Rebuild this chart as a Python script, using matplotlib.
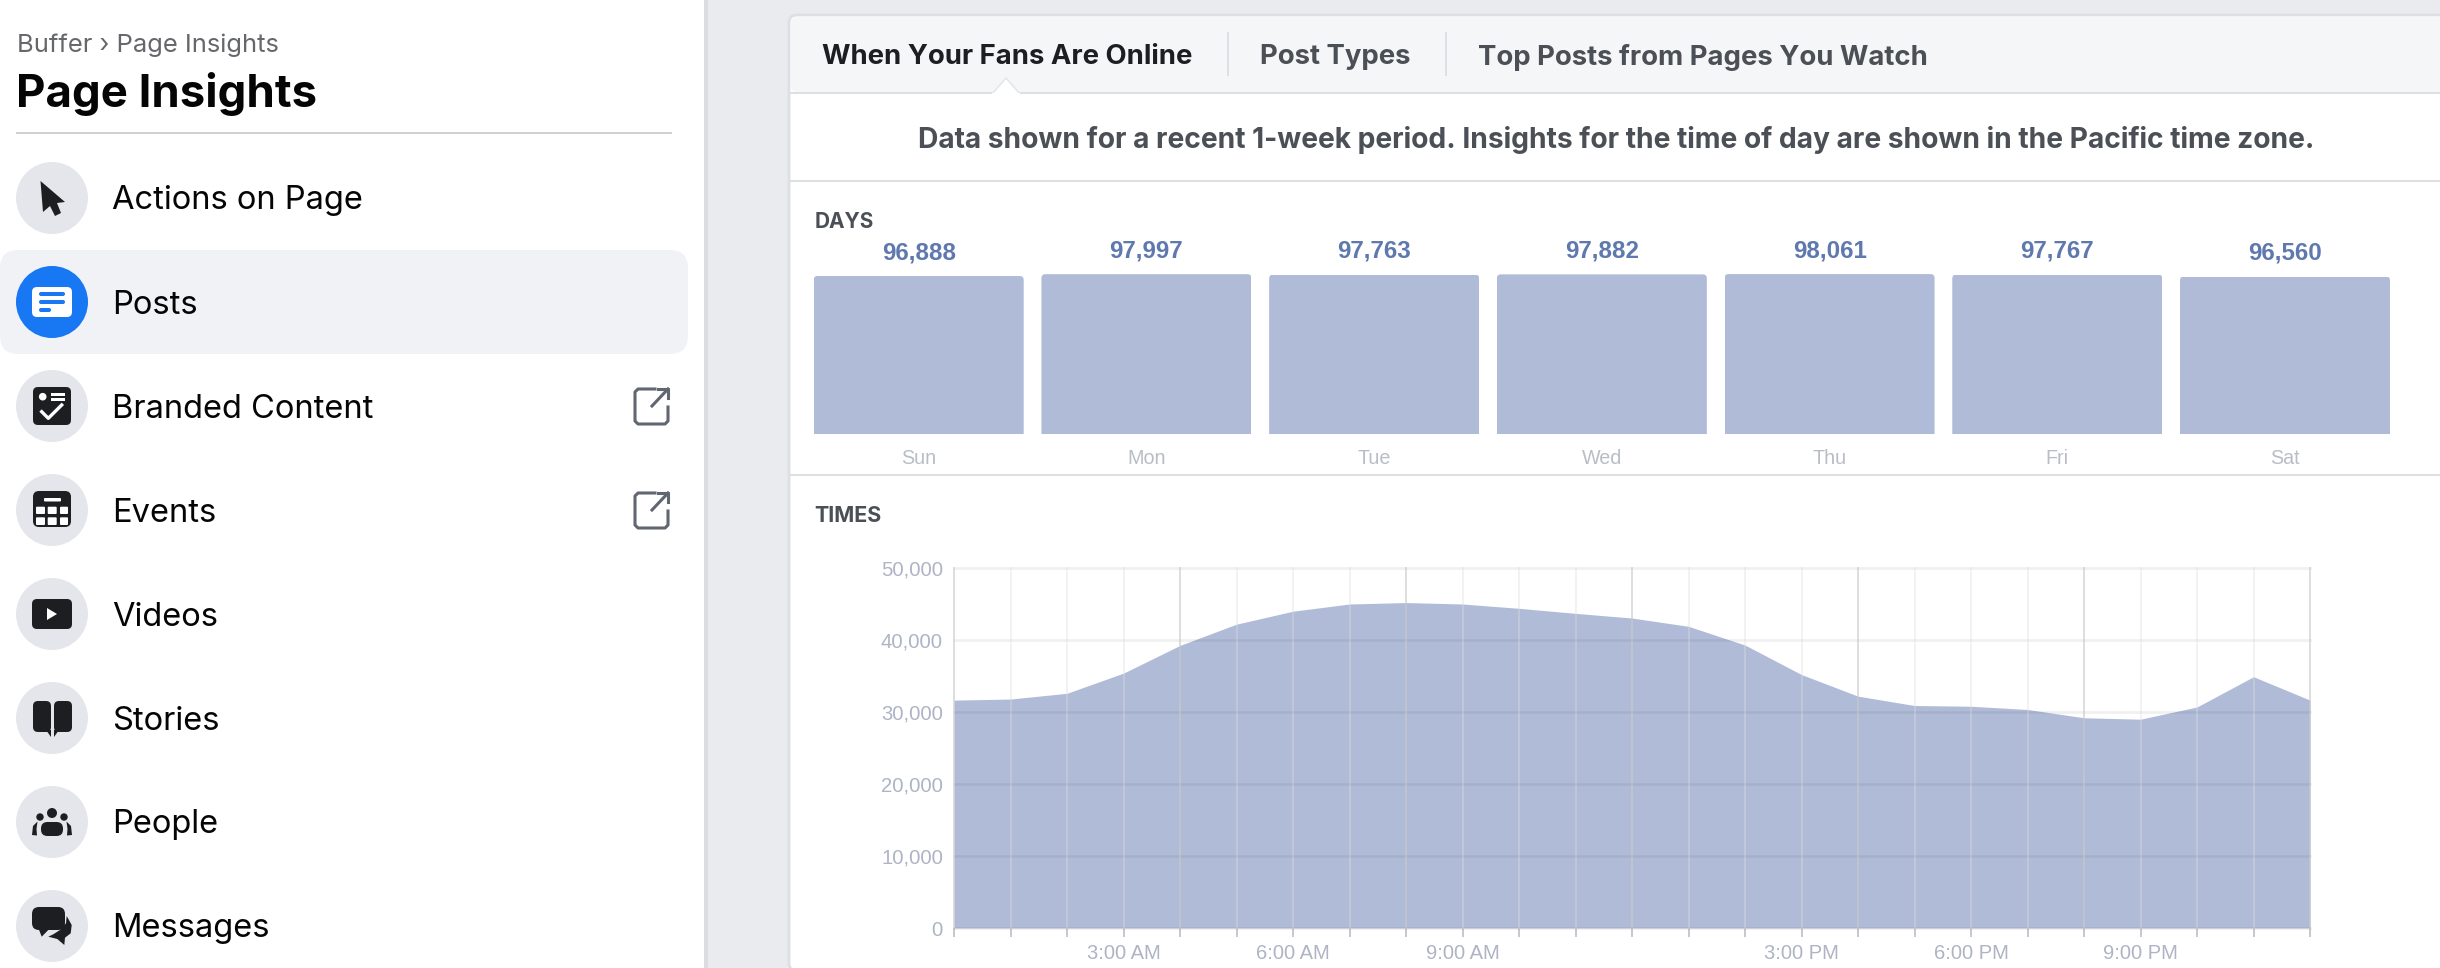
import numpy as np
import matplotlib
matplotlib.use("Agg")
import matplotlib.pyplot as plt
from matplotlib.patches import Circle, FancyBboxPatch, Polygon, Rectangle
from matplotlib.ticker import FuncFormatter

W, H = 2440, 968

days = ["Sun", "Mon", "Tue", "Wed", "Thu", "Fri", "Sat"]
day_values = [96888, 97997, 97763, 97882, 98061, 97767, 96560]

hours = list(range(25))
hour_values = [31650, 31800, 32600, 35400, 39250, 42200, 44000, 45000, 45200, 45000, 44400, 43700,
               43050, 41900, 39300, 35200, 32200, 30900, 30800, 30350, 29200, 29000, 30700, 34900, 31650]
time_ticks = [3, 6, 9, 15, 18, 21]
time_labels = ["3:00 AM", "6:00 AM", "9:00 AM", "3:00 PM", "6:00 PM", "9:00 PM"]
count_ticks = [0, 10000, 20000, 30000, 40000, 50000]

menu_items = ["Actions on Page", "Posts", "Branded Content", "Events", "Videos", "Stories", "People", "Messages"]
tabs = ["When Your Fans Are Online", "Post Types", "Top Posts from Pages You Watch"]

FILL = "#b0bcd7"
DARK = "#1c1e21"
GREY = "#4b4f56"
MUTED = "#aeb4c4"
CHART_FONT = ["Liberation Sans", "DejaVu Sans"]

plt.rcParams["font.family"] = ["Inter", "DejaVu Sans"]

fig = plt.figure(figsize=(W / 100, H / 100), dpi=100, facecolor="white")

# page furniture is laid out in screen pixels
ui = fig.add_axes([0, 0, 1, 1], zorder=0)
ui.set_xlim(0, W)
ui.set_ylim(H, 0)
ui.axis("off")


def box(x0, y0, x1, y1, color, r=0, ec="none", lw=0, z=1):
    if r == 0:
        p = Rectangle((x0, y0), x1 - x0, y1 - y0, fc=color, ec=ec, lw=lw, zorder=z)
    else:
        p = FancyBboxPatch((x0, y0), x1 - x0, y1 - y0, boxstyle=f"round,pad=0,rounding_size={r}",
                           fc=color, ec=ec, lw=lw, zorder=z)
    ui.add_patch(p)
    return p


def poly(points, color, cx, cy, z=4):
    ui.add_patch(Polygon([(cx + a, cy + b) for a, b in points], closed=True, fc=color, ec="none", zorder=z))


def icon_cursor(cx, cy):
    poly([(-11.5, -17), (13, 4), (5, 5), (9, 15), (3, 18), (-2, 8), (-9, 14)], DARK, cx, cy)


def icon_posts(cx, cy):
    box(cx - 20, cy - 15, cx + 20, cy + 15, "white", r=5, z=4)
    box(cx - 13, cy - 10, cx + 13, cy - 6, "#1877f2", r=2, z=5)
    box(cx - 13, cy - 2, cx + 13, cy + 2, "#1877f2", r=2, z=5)
    box(cx - 13, cy + 6, cx - 1, cy + 10, "#1877f2", r=2, z=5)


def icon_branded(cx, cy):
    box(cx - 19, cy - 19, cx + 19, cy + 19, DARK, r=5, z=4)
    ui.add_patch(Circle((cx - 9.3, cy - 9.3), 3.8, fc="white", ec="none", zorder=5))
    box(cx - 1.3, cy - 12.7, cx + 13, cy - 10.3, "white", z=5)
    box(cx - 1.3, cy - 7.7, cx + 13, cy - 5.3, "white", z=5)
    ui.plot([cx - 10.3, cx - 3.7, cx + 9.7], [cy + 5.7, cy + 12.3, cy - 1], color="white", lw=2.4, zorder=5)


def icon_events(cx, cy):
    box(cx - 19, cy - 19, cx + 19, cy + 17, DARK, r=6, z=4)
    box(cx - 8, cy - 12, cx + 9, cy - 8.5, "white", r=1, z=5)
    for x0, x1 in [(-16, -7), (-4.3, 4.7), (8, 16)]:
        for y0, y1 in [(-3.3, 4), (7.3, 15)]:
            box(cx + x0, cy + y0, cx + x1, cy + y1, "white", r=1, z=5)


def icon_videos(cx, cy):
    box(cx - 20, cy - 15, cx + 20, cy + 15, DARK, r=5, z=4)
    poly([(-5, -6), (5, 0), (-5, 6)], "white", cx, cy, z=5)


def icon_stories(cx, cy):
    box(cx - 19, cy - 17, cx - 1, cy + 14, DARK, r=5, z=4)
    box(cx + 2, cy - 17, cx + 20, cy + 14, DARK, r=5, z=4)
    poly([(-6, 12), (-1, 12), (-1, 19)], DARK, cx, cy)
    poly([(2, 12), (7, 12), (2, 19)], DARK, cx, cy)


def icon_people(cx, cy):
    ui.add_patch(Circle((cx, cy - 9), 5, fc=DARK, ec="none", zorder=4))
    ui.add_patch(Circle((cx - 12, cy - 5), 3.7, fc=DARK, ec="none", zorder=4))
    ui.add_patch(Circle((cx + 12, cy - 5), 3.7, fc=DARK, ec="none", zorder=4))
    box(cx - 11, cy, cx + 11, cy + 14, DARK, r=6.5, z=4)
    poly([(-14.5, -0.5), (-19, 4), (-20, 13), (-15, 13.5), (-15.5, 7)], DARK, cx, cy)
    poly([(14.5, -0.5), (19, 4), (20, 13), (15, 13.5), (15.5, 7)], DARK, cx, cy)


def icon_messages(cx, cy):
    box(cx - 20, cy - 19, cx + 13, cy + 4, DARK, r=7, z=5)
    poly([(-13.7, 2), (-3.7, 4), (-10.3, 10.7)], DARK, cx, cy, z=5)
    poly([(14.7, -10), (19.7, -1), (18.7, 7.3), (13, 11.7), (12.3, 19), (5.3, 13), (-3.7, 10.7),
          (1.3, 8.3), (8, 4), (14, -2.7)], DARK, cx, cy)


def icon_external(cy):
    xs = [668, 668, 665, 638, 635, 635, 638, 655]
    ys = [cy + 1, cy + 15, cy + 18, cy + 18, cy + 15, cy - 14, cy - 17, cy - 17]
    ui.plot(xs, ys, color="#606770", lw=2.2, zorder=4, solid_joinstyle="round")
    ui.plot([652, 668], [cy, cy - 17], color="#606770", lw=2.2, zorder=4)
    ui.plot([658, 668, 668], [cy - 17, cy - 17, cy - 8], color="#606770", lw=2.2, zorder=4)


# backgrounds
box(704, 0, W, H, "#e9ebee", z=0)
box(704, 0, 708, H, "#dadde1", z=0.5)

# sidebar
ui.text(17, 45, "Buffer \u203a Page Insights", fontsize=18.4, color="#65676b", va="center")
ui.text(16, 94.5, "Page Insights", fontsize=32.8, fontweight="bold", color="#050505", va="center")
box(16, 132, 672, 134, "#ced0d4")
box(0, 250, 688, 354, "#f0f2f5", r=18)

menu_y = [198 + 104 * i for i in range(len(menu_items))]
icons = [icon_cursor, icon_posts, icon_branded, icon_events, icon_videos, icon_stories, icon_people, icon_messages]
for name, y, draw_icon in zip(menu_items, menu_y, icons):
    face = "#1877f2" if name == "Posts" else "#e4e6eb"
    ui.add_patch(Circle((52, y), 36, fc=face, ec="none", zorder=3))
    draw_icon(52, y)
    ui.text(112, y + 3, name, fontsize=23.5, color="#050505", va="center", zorder=4)
icon_external(406)
icon_external(510)

# main panel
box(789, 15, W + 20, 971, "white", r=8, ec="#dddfe2", lw=2, z=1)
box(791, 17, W + 20, 92, "#f5f6f7", r=6, z=1.5)
box(790, 92, W, 94, "#dddfe2", z=2)
box(1227, 32, 1228.5, 76, "#dddfe2", z=2)
box(1445, 32, 1446.5, 76, "#dddfe2", z=2)
ui.add_patch(Polygon([(992, 94), (1006, 78), (1020, 94)], closed=True, fc="white", ec="#e4e6eb", lw=1.2, zorder=2.5))
box(992, 93, 1020, 95, "white", z=2.6)

tab_x = [822, 1259.5, 1477.5]
for label, x, col in zip(tabs, tab_x, [DARK, GREY, GREY]):
    ui.text(x, 57.5, label, fontsize=19.8, fontweight="bold", color=col, va="center", zorder=3)

ui.text(1616, 139.5, "Data shown for a recent 1-week period. Insights for the time of day are shown in the Pacific time zone.",
        fontsize=20.3, fontweight="bold", color=GREY, va="center", ha="center", zorder=3)
box(790, 180, W, 182, "#dddfe2", z=2)
ui.text(814.5, 221.5, "DAYS", fontsize=15, fontweight="bold", color=GREY, va="center", zorder=3)
box(790, 474, W, 476, "#dddfe2", z=2)
ui.text(814, 515.5, "TIMES", fontsize=15.5, fontweight="bold", color=GREY, va="center", zorder=3)


def place(x0, y0, x1, y1):
    return [x0 / W, 1 - y1 / H, (x1 - x0) / W, (y1 - y0) / H]


# days bars
ax = fig.add_axes(place(804.85, 254.6, 2398.85, 434), zorder=2)
ax.patch.set_alpha(0)
ax.set_xlim(-0.5, 6.5)
ax.set_ylim(0, 110000)
for s in ax.spines.values():
    s.set_visible(False)
ax.set_yticks([])
pos = np.arange(len(days))
bars = ax.bar(pos, day_values, width=210 / 227.7, color=FILL)
px_x = 227.7  # pixels per bar slot
px_y = 110000 / 179.4  # values per pixel
for b in bars:
    # tops have small rounded corners, bottoms stay square
    clip = FancyBboxPatch((b.get_x(), -5000), b.get_width(), b.get_height() + 5000,
                          boxstyle=f"round,pad=0,rounding_size={4 / px_x}",
                          mutation_aspect=px_y * px_x, transform=ax.transData)
    b.set_clip_path(clip)
ax.bar_label(bars, labels=[f"{v:,}" for v in day_values], padding=8.5, fontsize=17.4, fontweight="bold",
             color="#5f78ae", family=CHART_FONT)
ax.set_xticks(pos)
ax.set_xticklabels(days, fontsize=14.2, color="#b9bdc6", family=CHART_FONT)
ax.tick_params(axis="x", length=0, pad=11)

# times area
ax2 = fig.add_axes(place(954, 568, 2310, 928), zorder=2)
ax2.patch.set_alpha(0)
ax2.set_xlim(0, 24)
ax2.set_ylim(0, 50000)
for s in ax2.spines.values():
    s.set_visible(False)
ax2.fill_between(hours, hour_values, 0, color=FILL, lw=0, zorder=1)
for v in count_ticks:
    ax2.axhline(v, color="black", alpha=0.06, lw=2, zorder=2, clip_on=False)
for h in hours:
    if h % 4 == 0:
        ax2.axvline(h, color="#c8c8c8", alpha=0.65, lw=1.3, zorder=3, clip_on=False)
    else:
        ax2.axvline(h, color="#dcdcdc", alpha=0.4, lw=1.3, zorder=3, clip_on=False)
ax2.set_yticks(count_ticks)
ax2.yaxis.set_major_formatter(FuncFormatter(lambda v, _: f"{int(v):,}"))
ax2.tick_params(axis="y", length=0, pad=8, labelsize=14.6, labelcolor=MUTED)
ax2.set_xticks(hours, minor=True)
ax2.set_xticks(time_ticks)
ax2.set_xticklabels(time_labels)
ax2.tick_params(axis="x", which="both", length=6.5, width=1.4, color="#c8c8c8", pad=5, labelsize=14.5, labelcolor=MUTED)
for lab in ax2.get_xticklabels() + ax2.get_yticklabels():
    lab.set_family(CHART_FONT)
    if lab in ax2.get_yticklabels():
        lab.set_y(lab.get_position()[1])

fig.savefig("out.png", dpi=100, facecolor="white")
